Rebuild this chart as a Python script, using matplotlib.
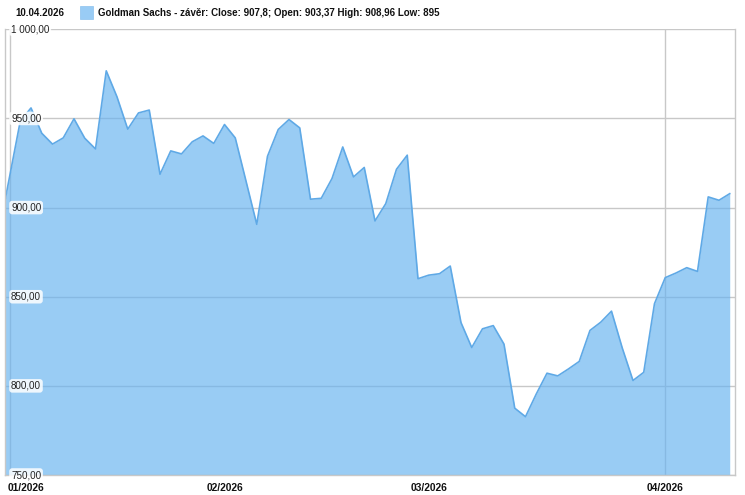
import matplotlib
matplotlib.use("Agg")
import matplotlib.pyplot as plt
import matplotlib.transforms as mtransforms
from matplotlib.patches import Rectangle

plt.rcParams['font.family'] = ['Liberation Sans', 'DejaVu Sans']

# ---- data ----
prev_close = 886.0  # last value before the visible window (31.12.2025)
close_values = [
    917.1, 948.5, 955.9, 941.7, 935.6, 939.1, 949.8, 938.9, 932.9, 976.7,
    962.1, 944.0, 953.1, 954.7, 918.7, 931.8, 930.1, 936.9, 940.2, 936.0,
    946.6, 939.1, 914.9, 890.6, 928.8, 943.8, 949.4, 944.7, 904.7, 905.2,
    916.3, 934.0, 917.2, 922.5, 892.5, 902.2, 921.5, 929.4, 860.1, 862.1,
    862.9, 867.2, 835.5, 821.5, 832.0, 833.8, 823.4, 787.5, 782.7, 795.4,
    807.1, 805.6, 809.5, 813.7, 831.1, 835.7, 841.9, 821.3, 803.0, 807.6,
    846.1, 860.7, 863.3, 866.3, 864.2, 906.0, 904.1, 907.8,
]
month_tick_index = [0, 20, 39, 61]
month_labels = ['01/2026', '02/2026', '03/2026', '04/2026']
vgrid_index = [0, 61]
y_ticks = [750, 800, 850, 900, 950, 1000]
y_labels = ['750,00', '800,00', '850,00', '900,00', '950,00', '1 000,00']
date_text = '10.04.2026'
legend_text = 'Goldman Sachs - závěr: Close: 907,8; Open: 903,37 High: 908,96 Low: 895'

# ---- figure ----
W, H = 745, 495
fig = plt.figure(figsize=(W / 100, H / 100), dpi=100)
left, right, top, bottom = 5, 735, 29.3, 475
ax = fig.add_axes([left / W, 1 - bottom / H, (right - left) / W, (bottom - top) / H])

xs = list(range(-1, len(close_values)))
ys = [prev_close] + close_values

grid_c = '#c8c8c8'
for yv in y_ticks:
    ax.axhline(yv, color=grid_c, lw=1.0, zorder=0.5)
for xi in vgrid_index:
    ax.axvline(xi, color=grid_c, lw=1.0, zorder=0.5)

ax.fill_between(xs, ys, 750, color='#67b3f0', alpha=0.67, lw=0, zorder=1)
ax.plot(xs, ys, color='#5fa9e6', lw=1.2, zorder=2)

ax.set_xlim(-0.42, 67.49)
ax.set_ylim(750, 1000)

for s in ax.spines.values():
    s.set_color(grid_c)
    s.set_linewidth(1.0)
ax.spines['top'].set_visible(False)

ax.set_yticks([])
ax.set_xticks(month_tick_index)
ax.set_xticklabels(month_labels, fontsize=7.4, fontweight='bold', color='#111111')
ax.tick_params(axis='x', length=0, pad=5.5)
lbls = ax.get_xticklabels()
lbls[0].set_ha('left')
lbls[0].set_transform(lbls[0].get_transform() + mtransforms.ScaledTranslation(-1.5 / 100, 0, fig.dpi_scale_trans))

trans = mtransforms.blended_transform_factory(ax.transAxes, ax.transData)
for yv, lab in zip(y_ticks, y_labels):
    ax.text(6 / (right - left), yv, lab, transform=trans, ha='left', va='center',
            fontsize=7.1, color='#222222', zorder=5,
            bbox=dict(boxstyle='round,pad=0.18,rounding_size=0.3', fc='white', ec='none', alpha=0.85))

# header / legend
fig.text(15 / W, 1 - 12.5 / H, date_text, fontsize=7.0, fontweight='bold', va='center', ha='left', color='#111111')
fig.patches.append(Rectangle((80 / W, 1 - 18.5 / H), 12.5 / W, 12 / H, transform=fig.transFigure,
                             fc='#99ccf5', ec='#8cc2ee', lw=0.5))
fig.text(98 / W, 1 - 12.5 / H, legend_text, fontsize=7.0, fontweight='bold', va='center', ha='left', color='#111111')

fig.savefig('out.png', dpi=100)
